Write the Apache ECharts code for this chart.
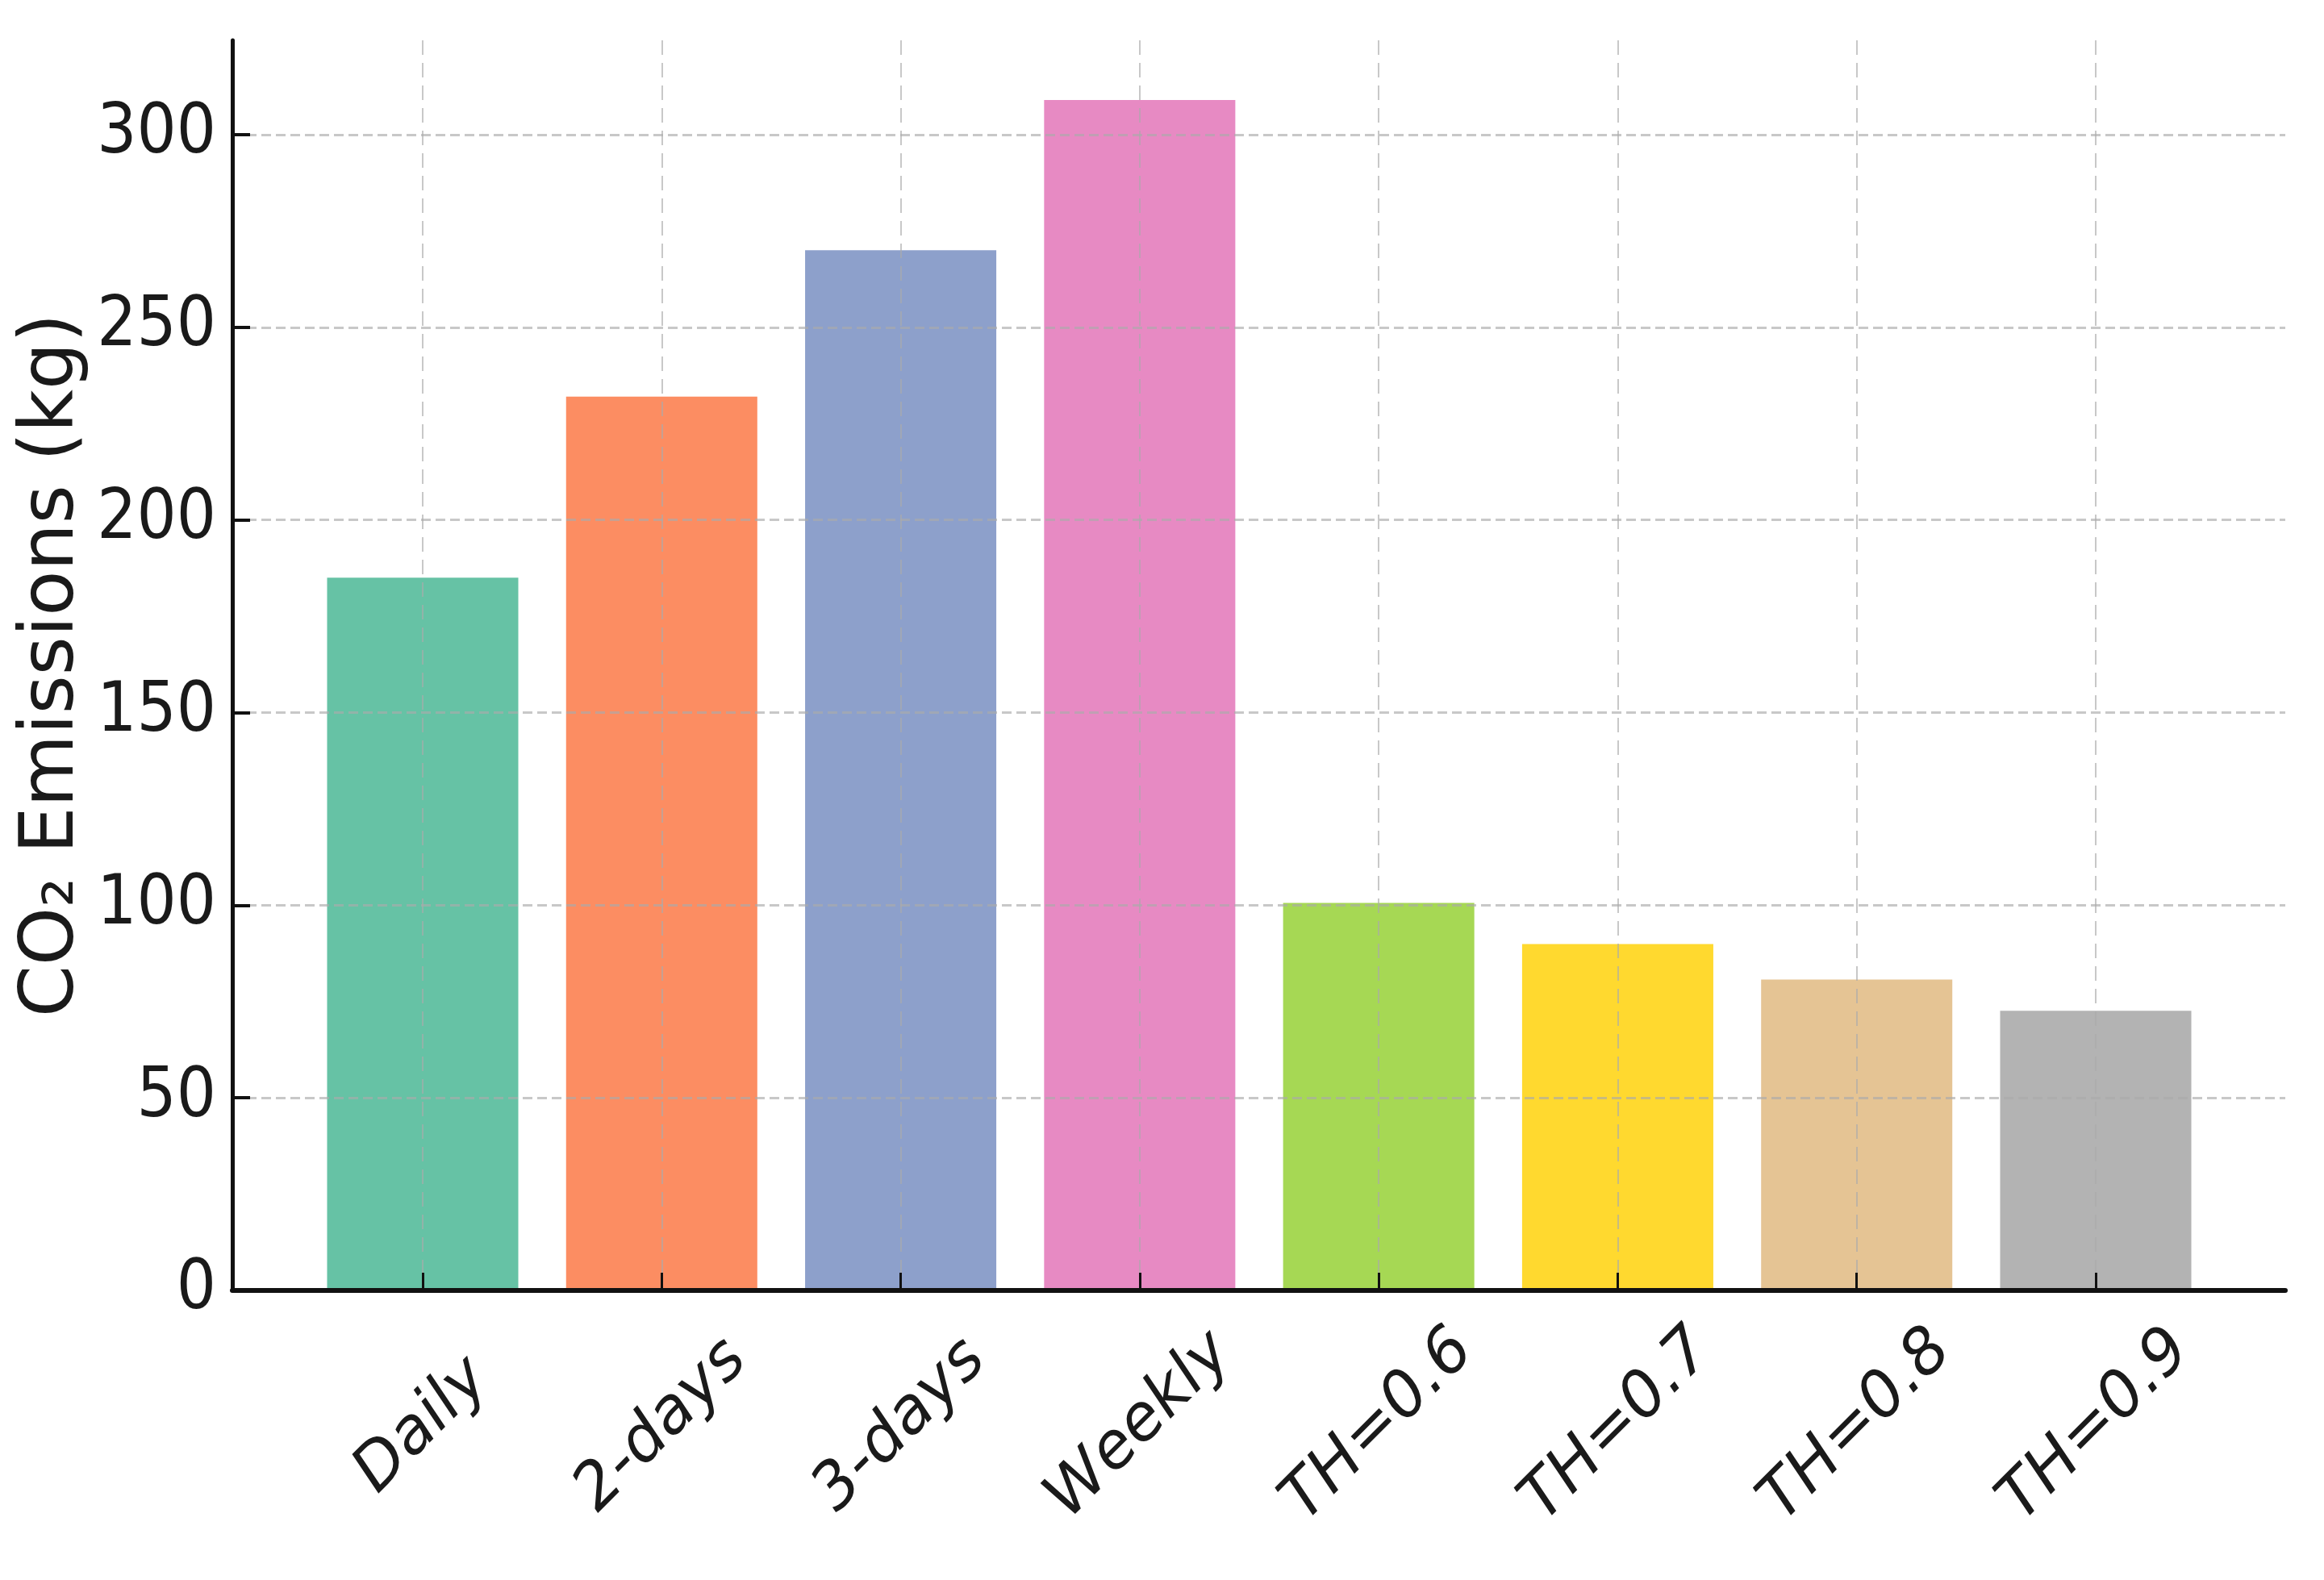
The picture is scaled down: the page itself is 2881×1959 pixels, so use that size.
<!DOCTYPE html>
<html>
<head>
<meta charset="utf-8">
<script src="https://cdn.jsdelivr.net/npm/echarts@6/dist/echarts.min.js"></script>
<style>
  html, body { margin: 0; padding: 0; background: #fff; }
  #bar-chart { width: 2881px; height: 1959px; }
</style>
</head>
<body>
<div id="bar-chart"></div>
<script>
// data
var categories = ['Daily', '2-days', '3-days', 'Weekly', 'TH=0.6', 'TH=0.7', 'TH=0.8', 'TH=0.9'];
var emissions = [185, 232, 270, 309, 100.6, 89.9, 80.7, 72.6];
var barColors = ['#66c2a5', '#fc8d62', '#8da0cb', '#e78ac3', '#a6d854', '#ffd92f', '#e5c494', '#b3b3b3'];
var yTicks = [0, 50, 100, 150, 200, 250, 300];

var dom = document.getElementById('bar-chart');
var myChart = echarts.init(dom, null, { renderer: 'canvas' });

var gridTop = 50, gridBottom = 359;
var gridLine = 'rgba(170,170,170,0.65)';

var option = {
    backgroundColor: '#ffffff',
    animation: false,
    grid: [
        // outer frame: axis lines, y ticks and horizontal grid
        { left: 288, right: 48, top: gridTop, bottom: gridBottom },
        // bars sit between the first and last category centre
        { left: 524, right: 283, top: gridTop, bottom: gridBottom }
    ],
    xAxis: [
        {
            gridIndex: 0,
            type: 'value',
            min: -0.79,
            max: 7.79,
            z: 4,
            axisLine: { show: true, onZero: false, lineStyle: { color: '#111', width: 6 } },
            axisTick: { show: false },
            axisLabel: { show: false },
            splitLine: { show: false }
        },
        {
            gridIndex: 1,
            type: 'category',
            data: categories,
            boundaryGap: false,
            z: 3,
            axisLine: { show: false },
            axisTick: {
                show: true, inside: true, length: 22,
                lineStyle: { color: '#111', width: 3 }
            },
            axisLabel: {
                rotate: 45,
                align: 'center',
                verticalAlign: 'middle',
                margin: 168,
                fontSize: 79,
                fontStyle: 'italic',
                fontFamily: '"DejaVu Sans", sans-serif',
                color: '#1a1a1a'
            },
            splitLine: {
                show: true,
                lineStyle: { color: gridLine, width: 2, type: [18, 10] }
            }
        }
    ],
    yAxis: [
        {
            gridIndex: 0,
            type: 'value',
            min: 0,
            max: 324.5,
            interval: 50,
            z: 4,
            name: 'CO\u2082 Emissions (kg)',
            nameLocation: 'middle',
            nameGap: 176,
            nameMoveOverlap: false,
            nameTextStyle: {
                fontSize: 92,
                fontFamily: '"DejaVu Sans", sans-serif',
                color: '#1a1a1a'
            },
            axisLine: { show: true, onZero: false, lineStyle: { color: '#111', width: 5 } },
            axisTick: {
                show: true, inside: true, length: 22,
                customValues: yTicks,
                lineStyle: { color: '#111', width: 4 }
            },
            axisLabel: {
                margin: 20,
                fontSize: 86,
                customValues: yTicks,
                fontFamily: '"DejaVu Sans Condensed", "DejaVu Sans", sans-serif',
                color: '#1a1a1a'
            },
            splitLine: {
                show: true,
                showMinLine: false,
                lineStyle: { color: gridLine, width: 3, type: [12, 6] }
            }
        },
        {
            gridIndex: 1,
            type: 'value',
            min: 0,
            max: 324.5,
            show: false
        }
    ],
    series: [
        {
            name: 'CO2',
            type: 'bar',
            xAxisIndex: 1,
            yAxisIndex: 1,
            data: emissions,
            barWidth: '80%',
            clip: false,
            itemStyle: {
                color: function (p) { return barColors[p.dataIndex]; }
            }
        }
    ]
};

if (option && typeof option === 'object') {
    myChart.setOption(option, true);
}
</script>
</body>
</html>
